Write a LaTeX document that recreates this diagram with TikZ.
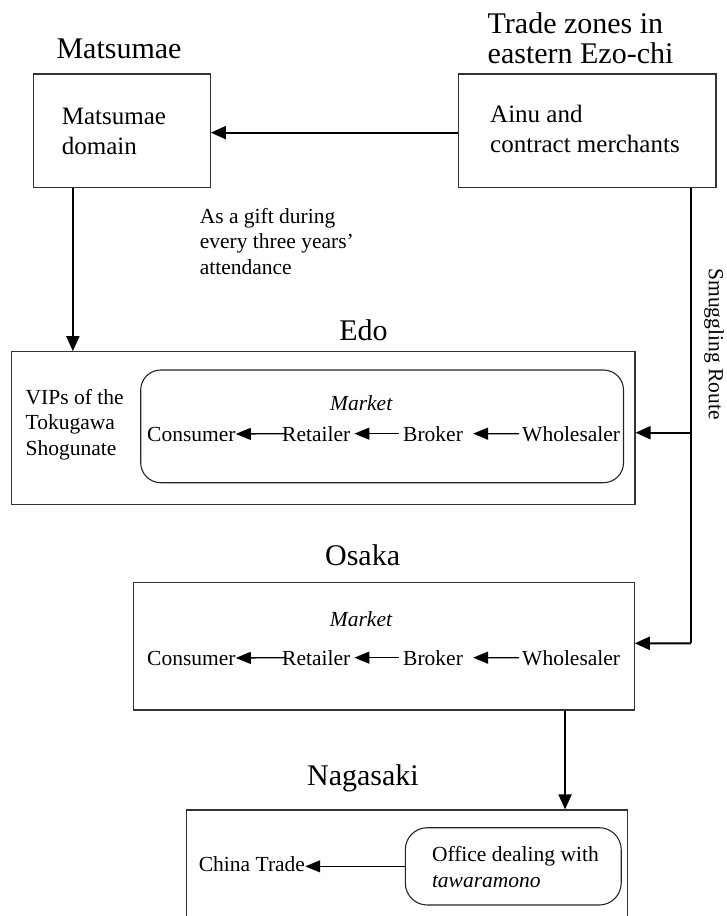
\documentclass[tikz,border=0pt]{standalone}
\usepackage{fontspec}
\setmainfont{Liberation Serif}
\usetikzlibrary{arrows.meta,calc}
\newcommand\fsTitle{\fontsize{30}{30}\selectfont}
\newcommand\fsBox{\fontsize{25}{30}\selectfont}
\newcommand\fsBody{\fontsize{21.5}{25.7}\selectfont}
\tikzset{
  boxnode/.style={draw=black!80, line width=1.1pt, rectangle, inner sep=0pt},
  roundnode/.style={draw=black!85, line width=1.1pt, rectangle, rounded corners=20pt, inner sep=0pt},
  txt/.style={inner sep=0pt, font=\fsBody},
  boxtxt/.style={inner sep=0pt, font=\fsBox},
  ttl/.style={inner sep=0pt, font=\fsTitle, anchor=base},
  arr/.style={line width=2pt, -{Triangle[length=15pt,width=13pt]}},
  rarr/.style={line width=1.3pt, -{Triangle[length=15pt,width=12pt]}},
}
\begin{document}
\begin{tikzpicture}[x=1pt,y=-1pt]
\clip (0,0) rectangle (726,916);
\fill[white] (0,0) rectangle (726,916);

% titles
\node[ttl] (tmats) at (119,58.3) {Matsumae};
\node[inner sep=0pt, anchor=base west, font=\fsTitle] (ttrade) at (487.5,33.3)
  {\begin{tabular}[t]{@{}l@{}}Trade zones in\\eastern Ezo-chi\end{tabular}};
\node[ttl] (tedo) at (363.5,340.7) {Edo};
\node[ttl] (tosaka) at (362.6,565.7) {Osaka};
\node[ttl] (tnaga) at (363,785) {Nagasaki};

% top boxes
\node[boxnode, minimum width=176.9pt, minimum height=113.7pt] (mats) at (121.85,130.85) {};
\node[boxnode, minimum width=257.3pt, minimum height=113.7pt] (trade) at (587.35,130.85) {};
\node[boxtxt, anchor=base west] (matsT) at (61.7,124)
  {\begin{tabular}[t]{@{}l@{}}Matsumae\\domain\end{tabular}};
\node[boxtxt, anchor=base west] (tradeT) at (490,122.7)
  {\begin{tabular}[t]{@{}l@{}}Ainu and\\contract merchants\end{tabular}};

% gift label
\node[txt, anchor=base west] (gift) at (199.6,223)
  {\begin{tabular}[t]{@{}l@{}}As a gift during\\every three years'\\attendance\end{tabular}};

% Edo
\node[boxnode, minimum width=623.4pt, minimum height=152.6pt] (edo) at (323.3,428) {};
\node[roundnode, minimum width=482.8pt, minimum height=112.7pt] (edomkt) at (382.1,426.35) {};
\node[txt, anchor=base west] (vips) at (25.5,404)
  {\begin{tabular}[t]{@{}l@{}}VIPs of the\\Tokugawa\\Shogunate\end{tabular}};
\node[txt, anchor=base] (emkt) at (361.2,410) {\itshape Market};
\node[txt, anchor=base west] (econ) at (147,441) {Consumer};
\node[txt, anchor=base west] (eret) at (282,441) {Retailer};
\node[txt, anchor=base west] (ebro) at (403,441) {Broker};
\node[txt, anchor=base west] (ewho) at (522,441) {Wholesaler};
\draw[rarr, shorten <=-3pt] (eret.west) -- (econ.east);
\draw[rarr, shorten <=4pt, shorten >=4pt] (ebro.west) -- (eret.east);
\draw[rarr, shorten <=3pt, shorten >=10pt] (ewho.west) -- (ebro.east);

% Osaka
\node[boxnode, minimum width=501pt, minimum height=127.7pt] (osaka) at (383.7,646.15) {};
\node[txt, anchor=base] (omkt) at (361,626) {\itshape Market};
\node[txt, anchor=base west] (ocon) at (147,665) {Consumer};
\node[txt, anchor=base west] (oret) at (282,665) {Retailer};
\node[txt, anchor=base west] (obro) at (403,665) {Broker};
\node[txt, anchor=base west] (owho) at (522,665) {Wholesaler};
\draw[rarr, shorten <=-3pt] (oret.west) -- (ocon.east);
\draw[rarr, shorten <=4pt, shorten >=4pt] (obro.west) -- (oret.east);
\draw[rarr, shorten <=3pt, shorten >=10pt] (owho.west) -- (obro.east);

% Nagasaki
\node[boxnode, minimum width=441.1pt, minimum height=200pt] (naga) at (407.15,910) {};
\node[roundnode, rounded corners=22pt, minimum width=215.9pt, minimum height=77.3pt] (office) at (513.25,866.35) {};
\node[txt, anchor=base west] (officeT) at (431.8,861.7)
  {\begin{tabular}[t]{@{}l@{}}Office dealing with\\\itshape tawaramono\end{tabular}};
\node[txt, anchor=base west] (china) at (198.7,871.7) {China Trade};
\draw[rarr] (office.west) -- (office.west -| china.east);

% main connectors
\draw[arr] ([yshift=-1.8pt]trade.west) -- ([yshift=-1.8pt]mats.east);
\draw[arr] (mats.south west) ++(40,0) coordinate (mv) -- (mv |- edo.north);
\draw[line width=2pt] (trade.south east) ++(-25.7,0) coordinate (sv) -- (sv |- 0,643.3);
\draw[arr] (sv |- 0,643.3) -- ([yshift=2.85pt]osaka.east);
\draw[arr] ([yshift=-4.7pt]sv |- edo.east) -- ([yshift=-4.7pt]edo.east);
\draw[arr] (osaka.south east) ++(-69.7,0) coordinate (ov) -- (ov |- naga.north);

\node[txt, rotate=-90] (smug) at (714,344) {Smuggling Route};
\end{tikzpicture}
\end{document}
